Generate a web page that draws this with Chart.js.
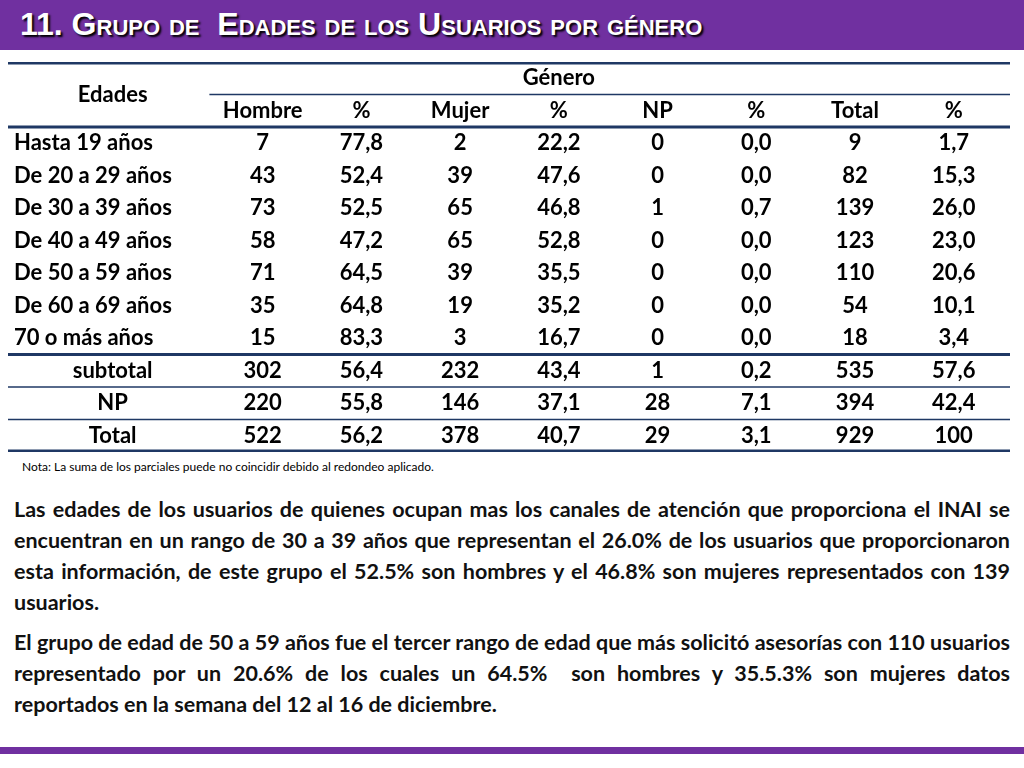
<!DOCTYPE html>
<html><head><meta charset="utf-8">
<script src="https://cdn.jsdelivr.net/npm/chart.js@4"></script>
<style>
body{margin:0;width:1024px;height:768px;background:#fff;font-family:Lato,"Open Sans",sans-serif;position:relative;overflow:hidden}
#bar{position:absolute;left:0;top:0;width:1024px;height:50px;background:#7030a0}
#bar div{position:absolute;left:20px;top:6px;color:#fff;font:bold 32px "Liberation Sans",Arial,sans-serif;font-variant:small-caps;text-shadow:2px 2px 2px #000}
#wrap{position:absolute;left:8px;top:62px;width:1002px;height:390px}
#nota{position:absolute;left:22px;top:459px;font-size:12px;color:#000}
#txt{position:absolute;left:14px;top:494px;width:996px;font-weight:bold;font-size:21.5px;line-height:31px;text-align:justify;color:#111}
#txt p{margin:0 0 9px 0}
#foot{position:absolute;left:0;top:747px;width:1024px;height:7px;background:#7030a0}
</style></head><body>
<div id="bar"><div>11. Grupo de&nbsp; Edades de los Usuarios por género</div></div>
<div id="wrap"><canvas id="c"></canvas></div>
<div id="nota">Nota: La suma de los parciales puede no coincidir debido al redondeo aplicado.</div>
<div id="txt">
<p>Las edades de los usuarios de quienes ocupan mas los canales de atención que proporciona el INAI se encuentran en un rango de 30 a 39 años que representan el 26.0% de los usuarios que proporcionaron esta información, de este grupo el 52.5% son hombres y el 46.8% son mujeres representados con 139 usuarios.</p>
<p>El grupo de edad de 50 a 59 años fue el tercer rango de edad que más solicitó asesorías con 110 usuarios representado por un 20.6% de los cuales un 64.5%&nbsp; son hombres y 35.5.3% son mujeres datos reportados en la semana del 12 al 16 de diciembre.</p>
</div>
<div id="foot"></div>
<script>
const columns = ["Hombre","%","Mujer","%","NP","%","Total","%"];
const ageGroups = ["Hasta 19 años","De 20 a 29 años","De 30 a 39 años","De 40 a 49 años","De 50 a 59 años","De 60 a 69 años","70 o más años"];
const summaryRows = ["subtotal","NP","Total"];
const hombre = [7,43,73,58,71,35,15,302,220,522];
const hombrePct = ["77,8","52,4","52,5","47,2","64,5","64,8","83,3","56,4","55,8","56,2"];
const mujer = [2,39,65,65,39,19,3,232,146,378];
const mujerPct = ["22,2","47,6","46,8","52,8","35,5","35,2","16,7","43,4","37,1","40,7"];
const np = [0,0,1,0,0,0,0,1,28,29];
const npPct = ["0,0","0,0","0,7","0,0","0,0","0,0","0,0","0,2","7,1","3,1"];
const total = [9,82,139,123,110,54,18,535,394,929];
const totalPct = ["1,7","15,3","26,0","23,0","20,6","10,1","3,4","57,6","42,4","100"];

const rowLabels = ["Género","head"].concat(ageGroups, summaryRows);
const series = [hombre,hombrePct,mujer,mujerPct,np,npPct,total,totalPct];

const tablePlugin = {
  id: "table",
  afterDraw(chart) {
    const ctx = chart.ctx, xs = chart.scales.x, ys = chart.scales.y;
    const L = chart.chartArea.left, R = chart.chartArea.right;
    const rowTop = i => ys.getPixelForValue(i) - ys.height / rowLabels.length / 2;
    const line = (y, x0, x1, w) => { ctx.beginPath(); ctx.lineWidth = w; ctx.strokeStyle = "#1f3864"; ctx.moveTo(x0, y); ctx.lineTo(x1, y); ctx.stroke(); };
    ctx.save();
    ctx.fillStyle = "#000";
    ctx.font = "bold 22px Lato, sans-serif";
    ctx.textBaseline = "middle";
    ctx.textAlign = "center";
    ctx.fillText("Género", xs.getPixelForValue(4), ys.getPixelForValue(0));
    ctx.fillText("Edades", xs.getPixelForValue(-0.52), (ys.getPixelForValue(0) + ys.getPixelForValue(1)) / 2);
    columns.forEach((c, j) => ctx.fillText(c, xs.getPixelForValue(j + 1), ys.getPixelForValue(1)));
    rowLabels.slice(2).forEach((lab, r) => {
      const y = ys.getPixelForValue(r + 2);
      if (r < ageGroups.length) { ctx.textAlign = "left"; ctx.fillText(lab, L + 6, y); }
      else { ctx.textAlign = "center"; ctx.fillText(lab, xs.getPixelForValue(-0.52), y); }
      ctx.textAlign = "center";
      series.forEach((s, j) => ctx.fillText(String(s[r]), xs.getPixelForValue(j + 1), y));
    });
    line(chart.chartArea.top + 1, L, R, 3);
    line(rowTop(1), xs.getPixelForValue(0.46), R, 1.5);
    line(rowTop(2), L, R, 3);
    line(rowTop(9), L, R, 3);
    line(rowTop(10), L, R, 1.5);
    line(rowTop(11), L, R, 1.5);
    line(chart.chartArea.bottom - 1, L, R, 3);
    ctx.restore();
  }
};

new Chart(document.getElementById("c"), {
  type: "scatter",
  data: { datasets: [{ data: [] }] },
  options: {
    responsive: true, maintainAspectRatio: false, animation: false,
    layout: { padding: 0 },
    plugins: { legend: { display: false }, tooltip: { enabled: false } },
    scales: {
      x: { type: "linear", min: -1.58, max: 8.57, display: false },
      y: { type: "category", labels: rowLabels, offset: true, display: false }
    }
  },
  plugins: [tablePlugin]
});
</script>
</body></html>
